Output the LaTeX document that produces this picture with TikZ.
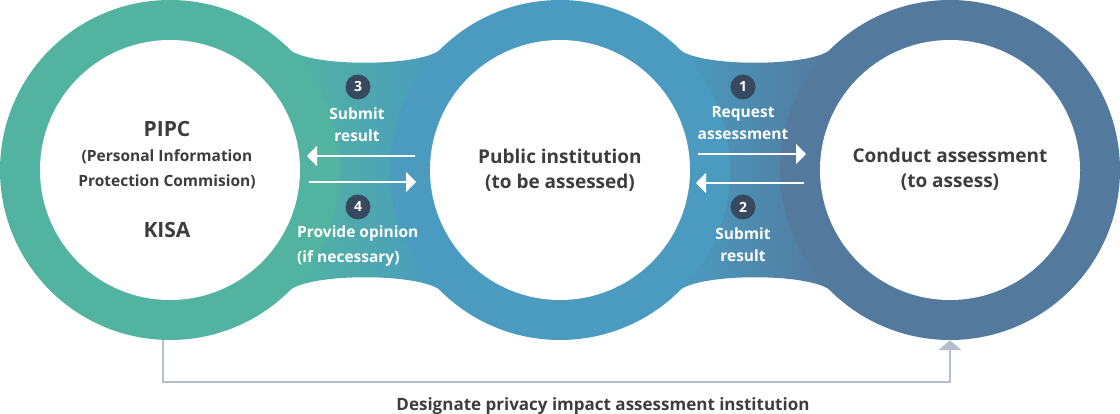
\documentclass[tikz,border=0pt]{standalone}
\usepackage{fontspec}
\setmainfont{Open Sans}
\usetikzlibrary{arrows.meta,calc}
\definecolor{cgreen}{HTML}{52B4A0}
\definecolor{cblue}{HTML}{4A9BBF}
\definecolor{cslate}{HTML}{53799D}
\definecolor{cnum}{HTML}{37495E}
\definecolor{ctext}{HTML}{3D3D3D}
\definecolor{cline}{HTML}{B4BFCB}
\tikzset{
  ringouter/.style={circle, minimum size=340pt, inner sep=0pt},
  ringinner/.style={circle, minimum size=260pt, inner sep=0pt, fill=white},
  mainlbl/.style={anchor=base, inner sep=0pt, text=ctext, font=\fontsize{19}{22}\selectfont\bfseries},
  biglbl/.style={anchor=base, inner sep=0pt, text=ctext, font=\fontsize{21}{24}\selectfont\bfseries},
  sublbl/.style={anchor=base, inner sep=0pt, text=ctext, font=\fontsize{15.5}{18}\selectfont\bfseries},
  wlbl/.style={anchor=base, inner sep=0pt, text=white, font=\fontsize{15.5}{18}\selectfont\bfseries},
  numc/.style={circle, fill=cnum, minimum size=25pt, inner sep=0pt, text=white, font=\fontsize{14}{16}\selectfont\bfseries},
  warr/.style={draw=white, line width=2pt, -{Triangle[width=20pt,length=10pt]}},
  conn/.style={draw=cline, line width=2pt, -{Triangle[width=23pt,length=10pt]}},
}
\begin{document}
\begin{tikzpicture}[x=1pt,y=-1pt]
\useasboundingbox (0,0) rectangle (1120,414);
% bridges
\path[left color=cgreen, right color=cblue]
  (290,50) .. controls (312,67) and (418,67) .. (440,50) -- (440,290)
  .. controls (418,273) and (312,273) .. (290,290) -- cycle;
\path[left color=cblue, right color=cslate]
  (680,50) .. controls (702,67) and (808,67) .. (830,50) -- (830,290)
  .. controls (808,273) and (702,273) .. (680,290) -- cycle;
% rings
\node[ringouter, fill=cgreen] (L) at (170,170) {};
\node[ringouter, fill=cblue] (M) at (560,170) {};
\node[ringouter, fill=cslate] (R) at (950,170) {};
\node[ringinner] (Li) at (L) {};
\node[ringinner] (Mi) at (M) {};
\node[ringinner] (Ri) at (R) {};
% main labels
\node[biglbl] (pipc) at (167,137) {PIPC};
\node[sublbl] (pers) at (167,162) {(Personal Information};
\node[sublbl] (prot) at (167,187) {Protection Commision)};
\node[biglbl] (kisa) at (167,238) {KISA};
\node[mainlbl] (pub1) at (560,164) {Public institution};
\node[mainlbl] (pub2) at (560,189) {(to be assessed)};
\node[mainlbl] (con1) at (950,163) {Conduct assessment};
\node[mainlbl] (con2) at (950,188) {(to assess)};
% numbers
\node[numc] (n3) at (358,87) {3};
\node[numc] (n4) at (358,207) {4};
\node[numc] (n1) at (743,87) {1};
\node[numc] (n2) at (743,207) {2};
% bridge labels
\node[wlbl] (l3a) at (357,120) {Submit};
\node[wlbl] (l3b) at (357,142) {result};
\node[wlbl, anchor=base west] (l4a) at (297,238) {Provide opinion};
\node[wlbl, anchor=base west] (l4b) at (297,263) {(if necessary)};
\node[wlbl] (l1a) at (743,118) {Request};
\node[wlbl] (l1b) at (743,140) {assessment};
\node[wlbl] (l2a) at (743,240) {Submit};
\node[wlbl] (l2b) at (743,262) {result};
% arrow end points
\coordinate (a3s) at (415,156); \coordinate (a3e) at (307,156);
\coordinate (a4s) at (309,182); \coordinate (a4e) at (416,182);
\coordinate (a1s) at (698,154); \coordinate (a1e) at (806,154);
\coordinate (a2s) at (804,183); \coordinate (a2e) at (696,183);
\draw[warr] (a3s) -- (a3e);
\draw[warr] (a4s) -- (a4e);
\draw[warr] (a1s) -- (a1e);
\draw[warr] (a2s) -- (a2e);
% bottom connector
\draw[conn] ([xshift=-7pt]L.south) |- ([yshift=-42pt]R.south) -- (R.south);
\node[anchor=base, inner sep=0pt, text=ctext, font=\fontsize{17}{19}\selectfont\bfseries] (des) at (603,410) {Designate privacy impact assessment institution};
\end{tikzpicture}
\end{document}
